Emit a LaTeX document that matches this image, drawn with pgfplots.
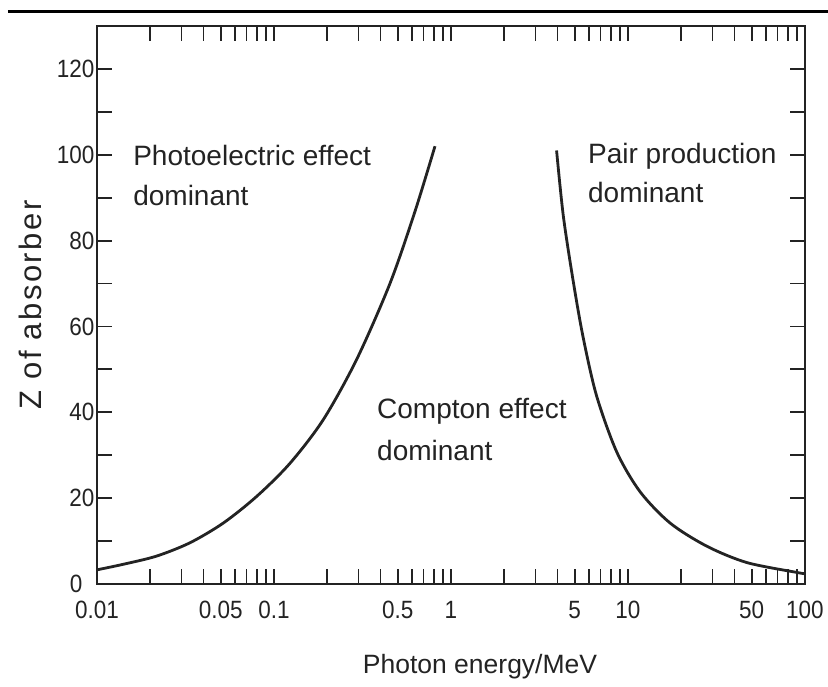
\documentclass[border=0pt]{standalone}
\usepackage{fontspec}
\setmainfont{Liberation Sans}
\newfontfamily\tickfont[FakeStretch=0.9]{Liberation Sans}
\newfontfamily\ylabfont[LetterSpace=8]{Liberation Sans}
\usepackage{pgfplots}
\pgfplotsset{compat=1.18}
\definecolor{ink}{RGB}{35,35,35}
\begin{document}
\begin{tikzpicture}
\useasboundingbox (-97pt,-102pt) rectangle (731pt,584pt);
\draw[line width=3pt, black] (-89pt,572pt) -- (731pt,572pt);
\begin{axis}[
  at={(0pt,0pt)}, anchor=south west,
  scale only axis, width=708pt, height=558pt,
  xmode=log, xmin=0.01, xmax=100, ymin=0, ymax=130,
  axis line style={line width=2.2pt, draw=ink},
  tick align=inside, tick pos=both, xticklabel pos=lower, yticklabel pos=left,
  xtick={0.01,0.05,0.1,0.5,1,5,10,50,100},
  xticklabels={0.01,0.05,0.1,0.5,1,5,10,50,100},
  minor xtick={0.02,0.03,0.04,0.06,0.07,0.08,0.09,0.2,0.3,0.4,0.6,0.7,0.8,0.9,2,3,4,6,7,8,9,20,30,40,60,70,80,90},
  ytick={0,20,40,60,80,100,120},
  yticklabels={\raisebox{-4pt}{0}\kern12pt,20,40,60,80,100,120},
  minor ytick={10,30,50,70,90,110},
  major tick length=15pt, minor tick length=15pt,
  tick style={line width=1.8pt, draw=ink},
  tick label style={font=\tickfont\fontsize{25}{30}\selectfont, text=ink},
  xticklabel style={yshift=-14pt},
  yticklabel style={xshift=1pt},
  xlabel={Photon energy/MeV},
  xlabel style={at={(axis description cs:0.541,0)}, anchor=base, yshift=-89pt, font=\fontsize{26.5}{30}\selectfont, text=ink},
  ylabel={Z of absorber},
  ylabel style={at={(axis description cs:-0.0777,0.5)}, anchor=base, font=\ylabfont\fontsize{31}{34}\selectfont, text=ink},
]
\addplot[line width=2.8pt, draw=ink, smooth] coordinates {
  (0.01,3.3) (0.0141,4.6) (0.0217,6.5) (0.0335,9.6) (0.0517,14.2) (0.0798,20.4)
  (0.123,28.1) (0.190,38.3) (0.293,52.3) (0.452,70.0) (0.626,86.8) (0.812,102)
};
\addplot[line width=2.8pt, draw=ink, smooth] coordinates {
  (3.95,101) (4.31,85.8) (4.91,70.4) (5.59,57.3) (6.65,43.8) (8.63,30.8)
  (11.7,21.5) (17.3,14.2) (27.9,8.8) (46.9,5.0) (89.8,2.7) (100,2.4)
};
\node[anchor=base west, inner sep=0pt, font=\fontsize{28}{34}\selectfont, text=ink] at (axis cs:0.016,97.4) {Photoelectric effect};
\node[anchor=base west, inner sep=0pt, font=\fontsize{28}{34}\selectfont, text=ink] at (axis cs:0.016,88.1) {dominant};
\node[anchor=base west, inner sep=0pt, font=\fontsize{28}{34}\selectfont, text=ink] at (axis cs:5.94,97.9) {Pair production};
\node[anchor=base west, inner sep=0pt, font=\fontsize{28}{34}\selectfont, text=ink] at (axis cs:5.94,88.8) {dominant};
\node[anchor=base west, inner sep=0pt, font=\fontsize{28}{34}\selectfont, text=ink] at (axis cs:0.382,38.6) {Compton effect};
\node[anchor=base west, inner sep=0pt, font=\fontsize{28}{34}\selectfont, text=ink] at (axis cs:0.382,28.8) {dominant};
\end{axis}
\end{tikzpicture}
\end{document}
